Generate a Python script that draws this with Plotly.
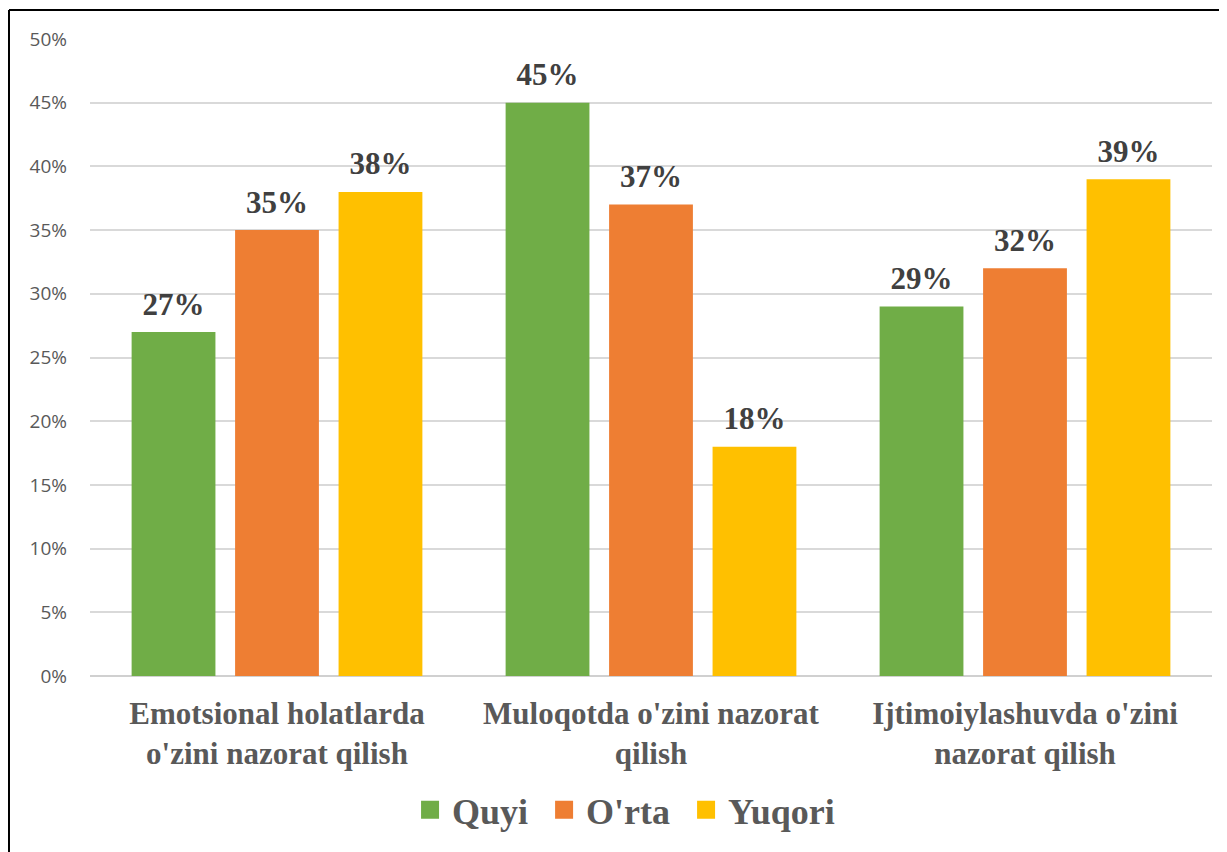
import plotly.graph_objects as go

categories = [
    "Emotsional holatlarda<br>o'zini nazorat qilish",
    "Muloqotda o'zini nazorat<br>qilish",
    "Ijtimoiylashuvda o'zini<br>nazorat qilish",
]
quyi = [0.27, 0.45, 0.29]
orta = [0.35, 0.37, 0.32]
yuqori = [0.38, 0.18, 0.39]

series = [
    ("Quyi", quyi, "#70AD47"),
    ("O'rta", orta, "#EE7E33"),
    ("Yuqori", yuqori, "#FFC000"),
]

SERIF = "Liberation Serif, Times New Roman, serif"

fig = go.Figure()
for name, vals, color in series:
    fig.add_trace(go.Bar(
        x=categories, y=vals, name=name, showlegend=False,
        offsetgroup=name,
        marker=dict(color=color, line_width=0),
        hoverinfo="skip",
    ))

# value labels as grouped text scatters, so the gap above the bar can be set
for name, vals, color in series:
    fig.add_trace(go.Scatter(
        x=categories, y=vals, mode="markers+text", showlegend=False,
        offsetgroup=name,
        text=[f"{v:.0%}" for v in vals], textposition="top center",
        textfont=dict(family=SERIF, size=31, color="#404040", weight="bold"),
        marker=dict(size=14, color="rgba(0,0,0,0)"),
        hoverinfo="skip", cliponaxis=False,
    ))

# legend-only entries with bigger square swatches
for name, vals, color in series:
    fig.add_trace(go.Scatter(
        x=[categories[0]], y=[None], mode="markers", name=name + "\u00a0",
        offsetgroup=name,
        marker=dict(symbol="square", size=16, color=color,
                    line=dict(color=color, width=2)),
    ))

fig.update_layout(
    width=1219, height=844,
    margin=dict(l=82, r=15, t=31, b=174),
    paper_bgcolor="white", plot_bgcolor="white",
    barmode="group", bargap=0.17, bargroupgap=0.19,
    scattermode="group", scattergap=0.17,
    legend=dict(
        orientation="h", x=0.48, xanchor="center", y=-0.21, yanchor="middle",
        font=dict(family=SERIF, size=36, color="#595959", weight="bold"),
        itemwidth=34,
    ),
    shapes=[
        dict(type="line", xref="paper", yref="paper",
             x0=-0.0722, x1=-0.0722, y0=1.0454, y1=-0.28,
             line=dict(color="black", width=2)),
        dict(type="line", xref="paper", yref="paper",
             x0=-0.0722, x1=1.02, y0=1.0454, y1=1.0454,
             line=dict(color="black", width=2)),
    ],
)
fig.update_yaxes(
    range=[0, 0.5], dtick=0.05, tickformat=".0%",
    showgrid=True, gridcolor="#D9D9D9", gridwidth=1.5,
    zeroline=True, zerolinecolor="#D0D0D0", zerolinewidth=1.5,
    showline=False, ticks="",
    ticklabelstandoff=22,
    tickfont=dict(family="Open Sans, sans-serif", size=19, color="#595959"),
)
fig.update_xaxes(
    showline=False, ticks="",
    ticklabelstandoff=16,
    tickfont=dict(family=SERIF, size=31, color="#595959", weight="bold"),
)

fig.write_html("out.html")
